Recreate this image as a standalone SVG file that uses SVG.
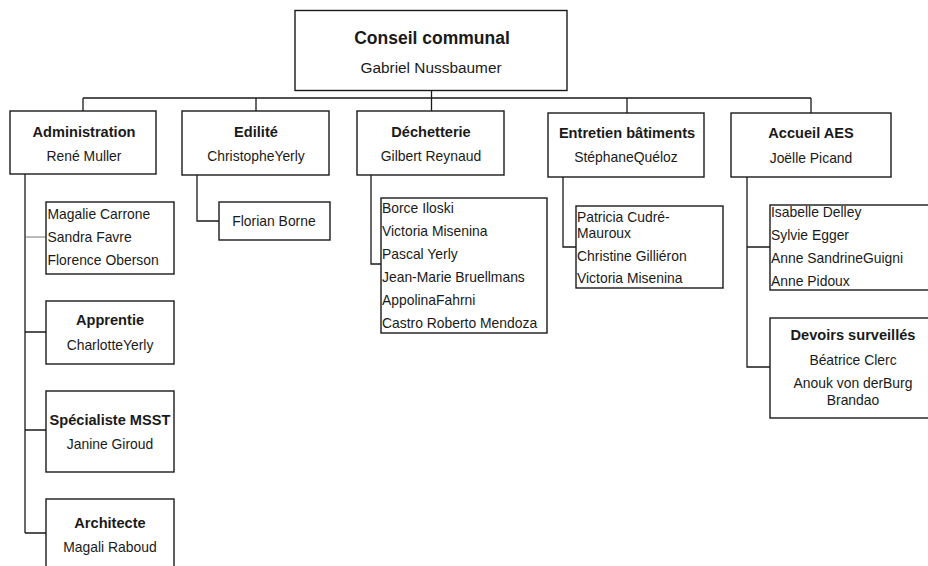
<svg xmlns="http://www.w3.org/2000/svg" width="928" height="566" viewBox="0 0 928 566">
<style>
.box{fill:#fff;stroke:#1a1a1a;stroke-width:1.4}
.c{fill:none;stroke:#1a1a1a;stroke-width:1.3}
.thin{fill:none;stroke:#777;stroke-width:1}
text{font-family:"Liberation Sans",Arial,sans-serif;fill:#1a1a1a}
.h{font-size:14.6px;font-weight:bold;text-anchor:middle}
.n{font-size:13.9px;text-anchor:middle}
.l{font-size:13.9px}
.th{font-size:17.5px;font-weight:bold;text-anchor:middle}
.tn{font-size:15.4px;text-anchor:middle}
</style>
<rect width="928" height="566" fill="#fff"/>
<g id="connectors">
<path class="c" d="M431.5 90.5V98M83 98H811M83 98V111M256 98V111M431.5 98V111M627 98V113M811 98V113"/>
<path class="c" d="M25 174V533M25 332H46M25 430H46M25 533H46"/>
<path class="thin" d="M25 237H46"/>
<path class="c" d="M197 175V221H219"/>
<path class="c" d="M371 175V264H381"/>
<path class="c" d="M563 177V247H576"/>
<path class="c" d="M747 177V367H770M747 247H770"/>
</g>
<g id="conseil">
<rect class="box" x="295" y="10.5" width="272" height="80"/>
<text class="th" x="432" y="44">Conseil communal</text>
<text class="tn" x="431" y="73">Gabriel Nussbaumer</text>
</g>
<g id="administration">
<rect class="box" x="10" y="111" width="146" height="63"/>
<text class="h" x="84" y="137">Administration</text>
<text class="n" x="84" y="161">René Muller</text>
</g>
<g id="edilite">
<rect class="box" x="182" y="111" width="147" height="64"/>
<text class="h" x="256" y="137">Edilité</text>
<text class="n" x="256" y="161">ChristopheYerly</text>
</g>
<g id="dechetterie">
<rect class="box" x="357" y="111" width="147" height="64"/>
<text class="h" x="431" y="137">Déchetterie</text>
<text class="n" x="431" y="161">Gilbert Reynaud</text>
</g>
<g id="entretien">
<rect class="box" x="548" y="113" width="156" height="64"/>
<text class="h" x="627" y="138">Entretien bâtiments</text>
<text class="n" x="626" y="162">StéphaneQuéloz</text>
</g>
<g id="accueil">
<rect class="box" x="731" y="113" width="160" height="64"/>
<text class="h" x="811" y="138">Accueil AES</text>
<text class="n" x="811" y="163">Joëlle Picand</text>
</g>
<g id="admin-staff">
<rect class="box" x="46" y="202" width="128" height="72"/>
<text class="l" x="47.5" y="219">Magalie Carrone</text>
<text class="l" x="47.5" y="242">Sandra Favre</text>
<text class="l" x="47.5" y="265">Florence Oberson</text>
</g>
<g id="apprentie">
<rect class="box" x="46" y="301" width="128" height="63"/>
<text class="h" x="110" y="325">Apprentie</text>
<text class="n" x="110" y="350">CharlotteYerly</text>
</g>
<g id="msst">
<rect class="box" x="46" y="391" width="128" height="81"/>
<text class="h" x="110" y="425">Spécialiste MSST</text>
<text class="n" x="110" y="449">Janine Giroud</text>
</g>
<g id="architecte">
<rect class="box" x="46" y="499" width="128" height="80"/>
<text class="h" x="110" y="528">Architecte</text>
<text class="n" x="110" y="552">Magali Raboud</text>
</g>
<g id="florian">
<rect class="box" x="219" y="202" width="111" height="38"/>
<text class="n" x="274" y="226">Florian Borne</text>
</g>
<g id="dechet-staff">
<rect class="box" x="381" y="198" width="166" height="135"/>
<text class="l" x="382" y="213">Borce Iloski</text>
<text class="l" x="382" y="236">Victoria Misenina</text>
<text class="l" x="382" y="259">Pascal Yerly</text>
<text class="l" x="382" y="282">Jean-Marie Bruellmans</text>
<text class="l" x="382" y="305">AppolinaFahrni</text>
<text class="l" x="382" y="328">Castro Roberto Mendoza</text>
</g>
<g id="entretien-staff">
<rect class="box" x="576" y="206" width="147" height="82"/>
<text class="l" x="577" y="222">Patricia Cudré-</text>
<text class="l" x="577" y="238">Mauroux</text>
<text class="l" x="577" y="261">Christine Gilliéron</text>
<text class="l" x="577" y="283">Victoria Misenina</text>
</g>
<g id="aes-staff">
<rect class="box" x="770" y="205" width="170" height="85"/>
<text class="l" x="771" y="217">Isabelle Delley</text>
<text class="l" x="771" y="240">Sylvie Egger</text>
<text class="l" x="771" y="263">Anne SandrineGuigni</text>
<text class="l" x="771" y="286">Anne Pidoux</text>
</g>
<g id="devoirs">
<rect class="box" x="770" y="318" width="170" height="100"/>
<text class="h" x="853" y="340">Devoirs surveillés</text>
<text class="n" x="853" y="365">Béatrice Clerc</text>
<text class="n" x="853" y="388">Anouk von derBurg</text>
<text class="n" x="853" y="405">Brandao</text>
</g>
</svg>
